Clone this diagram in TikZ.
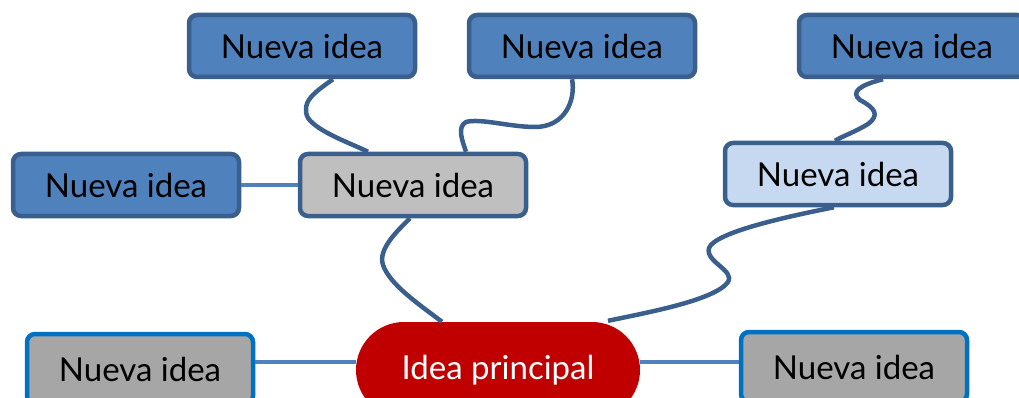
\documentclass[tikz,border=0pt]{standalone}
\usepackage{fontspec}
\setmainfont{Lato}
\usetikzlibrary{calc}
\definecolor{bord}{HTML}{3A5F8C}
\definecolor{midblue}{HTML}{4F81BD}
\definecolor{lightblue}{HTML}{C6D9F1}
\definecolor{graya}{HTML}{BFBFBF}
\definecolor{grayb}{HTML}{A6A6A6}
\definecolor{brightblue}{HTML}{0070C0}
\definecolor{mainred}{HTML}{C00000}
\tikzset{
  idea/.style={draw=bord, line width=4.5pt, rounded corners=8pt, minimum width=226pt, minimum height=62pt, inner sep=0pt, font=\fontsize{33}{34}\selectfont, text=black},
  bluebox/.style={idea, fill=midblue},
  graybox/.style={idea, fill=graya},
  lightbox/.style={idea, fill=lightblue},
  outbox/.style={idea, draw=brightblue, fill=grayb, minimum height=70pt},
  mainbox/.style={fill=mainred, rounded corners=48pt, minimum width=284pt, minimum height=96pt, inner sep=0pt, font=\fontsize{33}{34}\selectfont, text=white},
  curvy/.style={draw=bord, line width=4.5pt},
  straight/.style={draw=midblue, line width=4.5pt}
}
\begin{document}
\begin{tikzpicture}[x=1pt, y=-1pt]
\useasboundingbox (0,0) rectangle (1019,398);
\node[bluebox] (A) at (302,46) {Nueva idea};
\node[bluebox] (B) at (582,46) {Nueva idea};
\node[bluebox] (C) at (912,46) {Nueva idea};
\node[bluebox] (D) at (126,185) {Nueva idea};
\node[graybox] (E) at (413,185) {Nueva idea};
\node[lightbox] (F) at (838,174) {Nueva idea};
\node[mainbox] (G) at (498,370) {Idea principal};
\node[outbox] (H) at (140,369) {Nueva idea};
\node[outbox] (I) at (854,367) {Nueva idea};
% straight connectors
\draw[straight] ([yshift=7pt]H.east) -- ([yshift=7pt]H.east -| G.west);
\draw[straight] ([yshift=5pt]I.west -| G.east) -- ([yshift=5pt]I.west);
\draw[straight] (D.east) -- (E.west);
% curvy connectors
\draw[curvy] ([xshift=31pt]A.south) .. controls (315,92) and (300,102) .. (308,118)
  .. controls (318,132) and (350,143) .. ([xshift=-45pt]E.north);
\draw[curvy] ([xshift=-10pt]B.south) .. controls (576,100) and (565,127) .. (535,127)
  .. controls (510,127) and (480,118) .. (466,122)
  .. controls (457,127) and (462,140) .. ([xshift=53pt]E.north);
\draw[curvy] ([xshift=-29pt]C.south) .. controls (860,85) and (850,92) .. (860,100)
  .. controls (875,108) and (880,115) .. (868,124)
  .. controls (855,132) and (845,135) .. ([xshift=-3pt]F.north);
\draw[curvy] ([xshift=-3pt]E.south) .. controls (395,233) and (378,250) .. (383,265)
  .. controls (390,285) and (420,305) .. ([xshift=-56pt]G.north);
\draw[curvy] ([xshift=-4pt]F.south) .. controls (790,216) and (715,232) .. (709,248)
  .. controls (705,262) and (735,270) .. (728,282)
  .. controls (715,300) and (650,312) .. ([xshift=110pt,yshift=1pt]G.north);
\end{tikzpicture}
\end{document}
